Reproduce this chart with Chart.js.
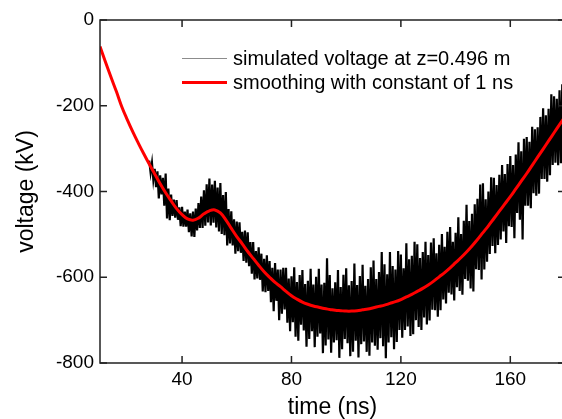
<!DOCTYPE html>
<html><head><meta charset="utf-8">
<script src="https://cdn.jsdelivr.net/npm/chart.js@4.4.0/dist/chart.umd.min.js"></script>
<style>html,body{margin:0;padding:0;overflow:hidden;background:#fff}#wrap{width:565px;height:419px}</style>
</head><body><div id="wrap"><canvas id="c" width="565" height="419" style="width:565px;height:419px"></canvas></div>
<script>
const xTicks = [40, 80, 120, 160];
const yTicks = [0, -200, -400, -600, -800];
const legendLabels = ['simulated voltage at z=0.496 m', 'smoothing with constant of 1 ns'];

const smoothT = [10,12,14,16,18,20,22,24,26,28,30,32,34,36,38,40,42,44,46,48,50,52,54,56,58,60,62,64,66,68,70,72,74,76,78,80,82,84,86,88,90,92,94,96,98,100,102,104,106,108,110,112,114,116,118,120,122,124,126,128,130,132,134,136,138,140,142,144,146,148,150,152,154,156,158,160,162,164,166,168,170,172,174,176,178,180];
const smoothV = [-62,-98,-133,-167,-203,-233,-261,-287,-312,-336,-359,-382,-403,-422,-440,-454,-464,-467,-462,-452,-445,-443,-450,-466,-486,-505,-522,-540,-556,-572,-587,-600,-612,-622,-633,-643,-651,-658,-663,-667,-670,-673,-675,-677,-678,-679,-679,-678,-676,-674,-671,-668,-665,-661,-657,-652,-646,-640,-633,-626,-618,-609,-599,-589,-578,-566,-554,-541,-527,-512,-496,-480,-463,-446,-429,-412,-394,-376,-358,-339,-320,-301,-282,-263,-244,-225];

const noiseT0 = 28;
const noiseDt = 0.5;
const noiseV = [
-328,-356,-333,-373, -347,-390,-353,-416, -362,-407,-368,-433, -358,-463,-393,-467,
-407,-457,-419,-461, -420,-466,-437,-481, -436,-482,-447,-482, -442,-495,-451,-505,
-447,-506,-440,-491, -427,-485,-412,-485, -397,-480,-383,-472, -370,-479,-384,-473,
-375,-484,-391,-493, -380,-499,-408,-502, -401,-526,-441,-521, -446,-526,-465,-545,
-470,-539,-472,-543, -494,-562,-491,-566, -495,-574,-518,-592, -518,-605,-539,-603,
-530,-606,-545,-633, -557,-635,-549,-632, -562,-658,-578,-679, -567,-655,-582,-700,
-582,-685,-578,-675, -578,-706,-603,-726, -598,-705,-577,-739, -611,-748,-595,-711,
-583,-724,-616,-762, -608,-744,-580,-726, -617,-763,-599,-739, -580,-731,-617,-777,
-613,-759,-556,-745, -595,-776,-626,-752, -612,-747,-583,-788, -623,-768,-594,-744,
-579,-754,-619,-784, -609,-774,-568,-748, -618,-787,-597,-756, -571,-750,-620,-774,
-604,-783,-577,-752, -561,-760,-604,-769, -588,-742,-541,-761, -570,-789,-593,-752,
-541,-740,-574,-768, -582,-751,-539,-723, -547,-741,-579,-723, -521,-715,-558,-737,
-550,-733,-517,-700, -523,-716,-555,-723, -541,-694,-517,-710, -548,-701,-519,-676,
-509,-677,-544,-692, -524,-677,-499,-652, -529,-661,-494,-636, -483,-640,-517,-654,
-496,-623,-460,-632, -499,-641,-468,-604, -431,-608,-469,-626, -452,-633,-430,-581,
-417,-583,-384,-605, -381,-582,-418,-564, -400,-546,-367,-527, -368,-544,-385,-525,
-361,-512,-338,-493, -359,-520,-336,-481, -317,-483,-338,-509, -314,-450,-285,-466,
-306,-512,-277,-433, -273,-433,-284,-439, -249,-404,-255,-410, -250,-405,-226,-371,
-206,-371,-222,-377, -207,-362,-173,-338, -178,-333,-184,-339, -164,-334,-150,-300,
-155];

const FONT = '"Liberation Sans", Arial, sans-serif';

const framePlugin = {
  id: 'frame',
  afterDraw(chart) {
    const {ctx, chartArea: a, scales: {x, y}} = chart;
    ctx.save();
    ctx.strokeStyle = '#222';
    ctx.lineWidth = 1.5;
    ctx.beginPath();
    ctx.rect(a.left, a.top, a.right - a.left, a.bottom - a.top);
    ctx.stroke();
    ctx.beginPath();
    xTicks.forEach(v => {
      const px = x.getPixelForValue(v);
      ctx.moveTo(px, a.bottom); ctx.lineTo(px, a.bottom - 7);
      ctx.moveTo(px, a.top); ctx.lineTo(px, a.top + 7);
    });
    yTicks.forEach(v => {
      const py = y.getPixelForValue(v);
      ctx.moveTo(a.left, py); ctx.lineTo(a.left + 7, py);
      ctx.moveTo(a.right, py); ctx.lineTo(a.right - 7, py);
    });
    ctx.stroke();
    ctx.restore();
  }
};

const legendPlugin = {
  id: 'innerLegend',
  afterDraw(chart) {
    const ctx = chart.ctx;
    ctx.save();
    ctx.font = '20px ' + FONT;
    ctx.fillStyle = '#000';
    ctx.textBaseline = 'middle';
    ctx.textAlign = 'left';
    ctx.strokeStyle = '#8c8c8c';
    ctx.lineWidth = 1;
    ctx.beginPath(); ctx.moveTo(182, 58.5); ctx.lineTo(227, 58.5); ctx.stroke();
    ctx.fillText(legendLabels[0], 233, 59);
    ctx.strokeStyle = '#ff0000';
    ctx.lineWidth = 3;
    ctx.beginPath(); ctx.moveTo(182, 82.5); ctx.lineTo(227, 82.5); ctx.stroke();
    ctx.fillText(legendLabels[1], 233, 83);
    ctx.restore();
  }
};

new Chart(document.getElementById('c'), {
  type: 'line',
  data: {
    datasets: [
      {
        label: legendLabels[0],
        data: noiseV.map((v, i) => ({x: noiseT0 + i * noiseDt, y: v})),
        borderColor: '#000', borderWidth: 2.2, pointRadius: 0, tension: 0, order: 2
      },
      {
        label: legendLabels[1],
        data: smoothT.map((t, i) => ({x: t, y: smoothV[i]})),
        borderColor: '#ff0000', borderWidth: 3, pointRadius: 0, tension: 0.4, order: 1
      }
    ]
  },
  options: {
    responsive: false, animation: false, devicePixelRatio: 1,
    layout: {padding: {top: 20, right: 0, left: 0, bottom: 0}},
    plugins: {legend: {display: false}, tooltip: {enabled: false}},
    scales: {
      x: {
        type: 'linear', min: 10, max: 180,
        afterFit(s) { s.height = 56; },
        afterBuildTicks(s) { s.ticks = xTicks.map(v => ({value: v})); },
        grid: {display: false, drawTicks: false}, border: {display: false},
        ticks: {padding: 5, color: '#000', font: {family: FONT, size: 19}, maxRotation: 0, autoSkip: false, callback: v => String(v)},
        title: {display: true, text: 'time (ns)', color: '#000', font: {family: FONT, size: 23, lineHeight: 1}, padding: {top: 0, bottom: 0}}
      },
      y: {
        type: 'linear', min: -800, max: 0,
        afterFit(s) { s.width = 100; },
        afterBuildTicks(s) { s.ticks = yTicks.map(v => ({value: v})); },
        grid: {display: false, drawTicks: false}, border: {display: false},
        ticks: {padding: 6, color: '#000', font: {family: FONT, size: 19}, autoSkip: false, callback: v => String(v)},
        title: {display: true, text: 'voltage (kV)', color: '#000', font: {family: FONT, size: 23, lineHeight: 1}, padding: {top: 15, bottom: 0}}
      }
    }
  },
  plugins: [framePlugin, legendPlugin]
});
</script>
</body></html>
